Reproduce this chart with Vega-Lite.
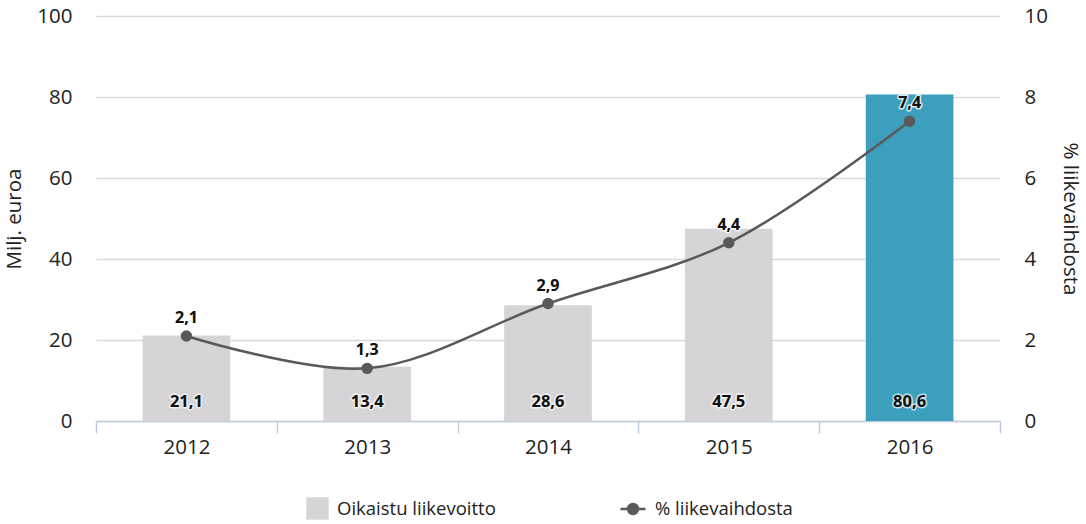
{
  "$schema": "https://vega.github.io/schema/vega-lite/v6.json",
  "width": 904,
  "height": 405,
  "autosize": {"type": "none"},
  "padding": {"left": 96, "top": 16, "right": 86, "bottom": 103},
  "background": "white",
  "config": {
    "view": {"stroke": null},
    "font": "Open Sans",
    "axis": {"labelFont": "Open Sans", "titleFont": "Open Sans", "labelColor": "#222222", "titleColor": "#222222", "labelFontSize": 20.5, "titleFontSize": 20.5, "titleFontWeight": "normal"},
    "legend": {"labelFont": "Open Sans", "labelFontSize": 18.5, "labelColor": "#222222"}
  },
  "data": {
    "values": [
      {"year": "2012", "profit": 21.1, "pct": 2.1, "profitLabel": "21,1", "pctLabel": "2,1"},
      {"year": "2013", "profit": 13.4, "pct": 1.3, "profitLabel": "13,4", "pctLabel": "1,3"},
      {"year": "2014", "profit": 28.6, "pct": 2.9, "profitLabel": "28,6", "pctLabel": "2,9"},
      {"year": "2015", "profit": 47.5, "pct": 4.4, "profitLabel": "47,5", "pctLabel": "4,4"},
      {"year": "2016", "profit": 80.6, "pct": 7.4, "profitLabel": "80,6", "pctLabel": "7,4"}
    ]
  },
  "encoding": {
    "x": {
      "field": "year", "type": "nominal", "sort": null,
      "scale": {"paddingInner": 0, "paddingOuter": 0},
      "axis": {"title": null, "labelAngle": 0, "domainColor": "#bfcddc", "domainWidth": 1.5, "tickColor": "#bfcddc", "tickWidth": 1.5, "tickSize": 12, "tickBand": "extent", "labelPadding": 4, "grid": false}
    }
  },
  "layer": [
    {
      "layer": [
        {
          "mark": {"type": "bar", "width": {"band": 0.485}},
          "encoding": {
            "y": {"field": "profit", "type": "quantitative", "scale": {"domain": [0, 100]},
              "axis": {"orient": "left", "title": "Milj. euroa", "values": [0, 20, 40, 60, 80, 100], "grid": true, "gridColor": "#d9d9d9", "gridWidth": 1.5, "domain": false, "ticks": false, "labelPadding": 24, "titlePadding": 12}},
            "fill": {
              "condition": {"test": "datum.year == '2016'", "value": "#3d9fbe"},
              "datum": "Oikaistu liikevoitto",
              "scale": {"range": ["#d6d4d7"]},
              "legend": {"title": null, "orient": "none", "legendX": 210, "legendY": 481, "symbolType": "square", "symbolSize": 500, "symbolStrokeWidth": 0, "labelOffset": 8, "padding": 0}
            }
          }
        },
        {
          "mark": {"type": "text", "fontWeight": "bold", "fontSize": 16.5, "dy": -19, "baseline": "middle", "stroke": "white", "strokeWidth": 3, "strokeOpacity": 0.7, "strokeJoin": "round"},
          "encoding": {
            "y": {"datum": 0, "type": "quantitative"},
            "text": {"field": "profitLabel"}
          }
        },
        {
          "mark": {"type": "text", "fontWeight": "bold", "fontSize": 16.5, "dy": -19, "baseline": "middle", "color": "#111111"},
          "encoding": {
            "y": {"datum": 0, "type": "quantitative"},
            "text": {"field": "profitLabel"}
          }
        }
      ]
    },
    {
      "layer": [
        {
          "mark": {"type": "line", "interpolate": "catmull-rom", "strokeWidth": 2.5},
          "encoding": {
            "y": {"field": "pct", "type": "quantitative", "scale": {"domain": [0, 10]},
              "axis": {"orient": "right", "title": "% liikevaihdosta", "values": [0, 2, 4, 6, 8, 10], "grid": false, "domain": false, "ticks": false, "labelPadding": 24, "titlePadding": 12}},
            "stroke": {
              "datum": "% liikevaihdosta",
              "scale": {"range": ["#595959"]},
              "legend": {"title": null, "orient": "none", "legendX": 523, "legendY": 479, "symbolType": "M-1,0H1M-0.4,0A0.4,0.4 0 1,0 0.4,0A0.4,0.4 0 1,0 -0.4,0Z", "symbolSize": 625, "symbolStrokeWidth": 2.5, "symbolFillColor": "#595959", "labelOffset": 8, "padding": 0}
            }
          }
        },
        {
          "mark": {"type": "point", "filled": true, "size": 130, "opacity": 1, "color": "#595959"},
          "encoding": {
            "y": {"field": "pct", "type": "quantitative"}
          }
        },
        {
          "mark": {"type": "text", "fontWeight": "bold", "fontSize": 16, "dy": -10, "baseline": "bottom", "stroke": "white", "strokeWidth": 3, "strokeOpacity": 0.8, "strokeJoin": "round"},
          "encoding": {
            "y": {"field": "pct", "type": "quantitative"},
            "text": {"field": "pctLabel"}
          }
        },
        {
          "mark": {"type": "text", "fontWeight": "bold", "fontSize": 16, "dy": -10, "baseline": "bottom", "color": "#111111"},
          "encoding": {
            "y": {"field": "pct", "type": "quantitative"},
            "text": {"field": "pctLabel"}
          }
        }
      ]
    }
  ],
  "resolve": {"scale": {"y": "independent"}}
}
